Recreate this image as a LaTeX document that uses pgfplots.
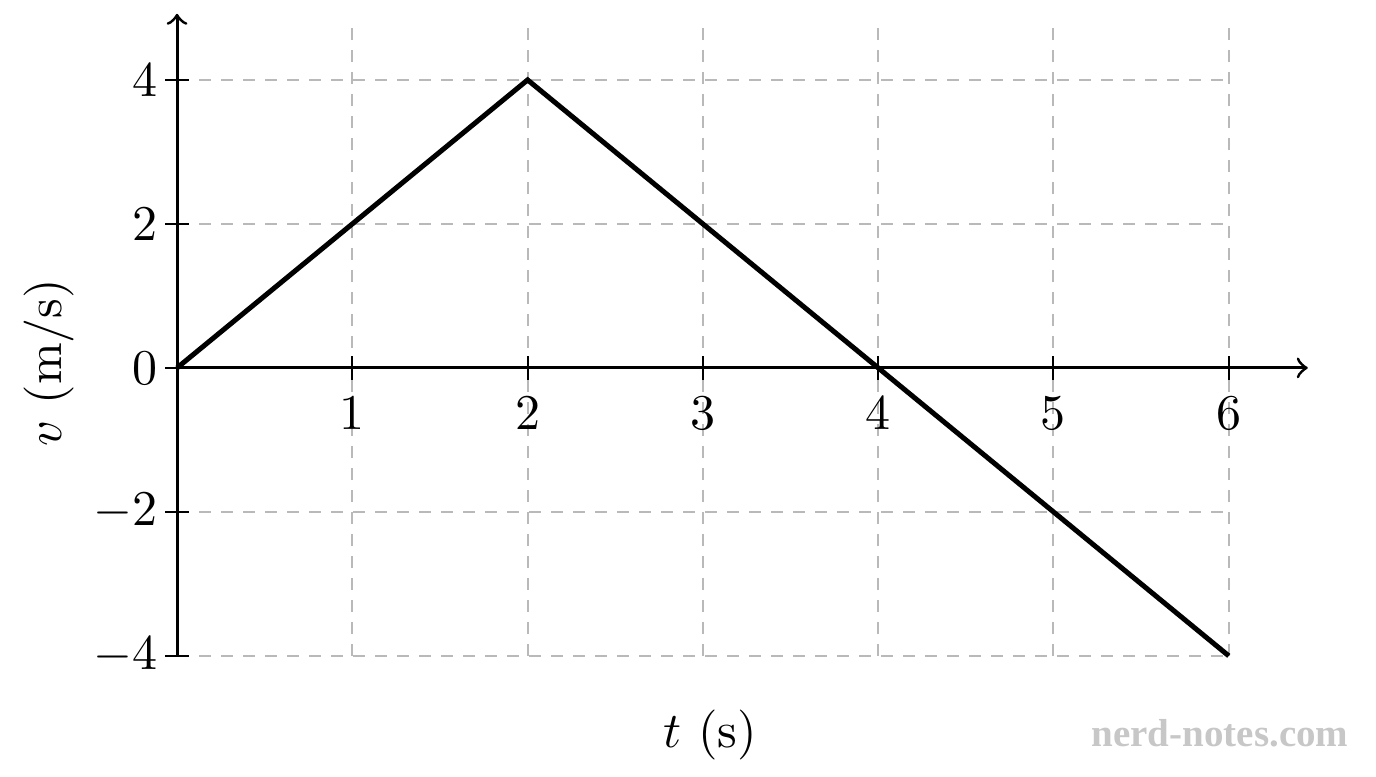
\documentclass[border=0pt]{standalone}
\usepackage{pgfplots}
\pgfplotsset{compat=1.18}
\usepackage{fontspec}
\newfontfamily\wmfont{Liberation Serif}

\begin{document}
\begin{tikzpicture}
\begin{axis}[
	x=35.06pt, y=14.4pt,
	axis lines=middle,
	xmin=0, xmax=6, ymin=-4, ymax=4.78,
	xtick={1,2,3,4,5,6},
	ytick={-4,-2,0,2,4},
	hide obscured x ticks=false,
	hide obscured y ticks=false,
	major tick length=4.8pt,
	tick style={black, line width=0.4pt},
	yticklabel style={xshift=2pt},
	grid=major,
	grid style={gray!55, line width=0.4pt, dash pattern=on 2.4pt off 2pt},
	axis line style={->, line width=0.6pt},
	every inner x axis line/.append style={shorten >=-15.8pt},
	every inner y axis line/.append style={shorten >=-2pt},
	xlabel={$t$ (s)},
	ylabel={$v$ (m/s)},
	xlabel style={at={(axis description cs:0.507,-0.125)}, anchor=center},
	ylabel style={at={(axis description cs:-0.1217,0.4635)}, anchor=center, rotate=90},
	clip=false,
]
% fixes the page size to the reference's proportions
\path (axis cs:-1.01,5.11) rectangle (axis cs:6.84,-5.556);

\addplot[black, line width=1pt] coordinates {(0,0) (2,4) (6,-4)};

\node[text=black!22, font=\wmfont\bfseries\fontsize{7.8}{9}\selectfont] at (axis cs:5.95,-5.07) {nerd-notes.com};
\end{axis}
\end{tikzpicture}
\end{document}
